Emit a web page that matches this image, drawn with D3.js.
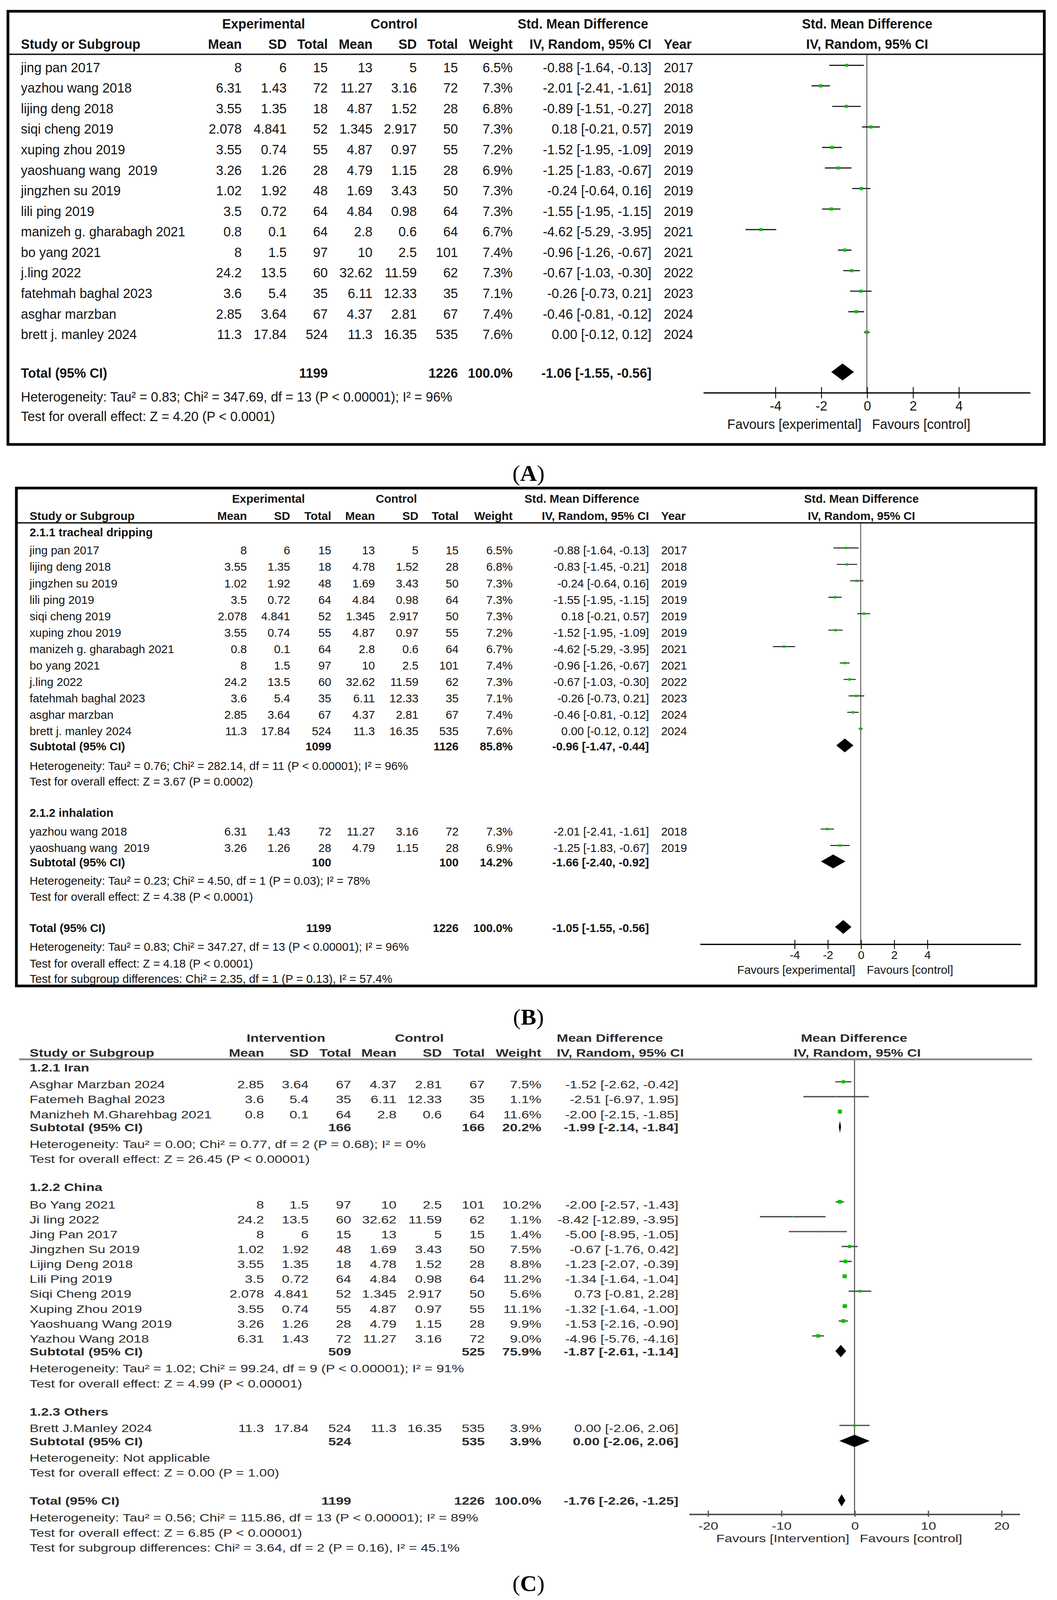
<!DOCTYPE html>
<html>
<head>
<meta charset="utf-8">
<script src="https://cdn.jsdelivr.net/npm/d3@7"></script>
<style>
  html, body { margin: 0; height: 100%; overflow: hidden; background: #fff; }
  #chart { width: 100vw; height: 100vh; }
  svg { display: block; width: 100vw; height: 100vh; }
</style>
</head>
<body>
<div id="chart"></div>
<script>
// ---------- panel A : all studies ----------
const namesA = ["jing pan 2017", "yazhou wang 2018", "lijing deng 2018", "siqi cheng 2019", "xuping zhou 2019",
  "yaoshuang wang  2019", "jingzhen su 2019", "lili ping 2019", "manizeh g. gharabagh 2021", "bo yang 2021",
  "j.ling 2022", "fatehmah baghal 2023", "asghar marzban", "brett j. manley 2024"];
const groupA = [0, 0, 0, 0, 0, 0, 0, 0, 0, 0, 0, 0, 0, 0];
const expMeanA = [8, 6.31, 3.55, 2.078, 3.55, 3.26, 1.02, 3.5, 0.8, 8, 24.2, 3.6, 2.85, 11.3];
const expSdA = [6, 1.43, 1.35, 4.841, 0.74, 1.26, 1.92, 0.72, 0.1, 1.5, 13.5, 5.4, 3.64, 17.84];
const expNA = [15, 72, 18, 52, 55, 28, 48, 64, 64, 97, 60, 35, 67, 524];
const ctlMeanA = [13, 11.27, 4.87, 1.345, 4.87, 4.79, 1.69, 4.84, 2.8, 10, 32.62, 6.11, 4.37, 11.3];
const ctlSdA = [5, 3.16, 1.52, 2.917, 0.97, 1.15, 3.43, 0.98, 0.6, 2.5, 11.59, 12.33, 2.81, 16.35];
const ctlNA = [15, 72, 28, 50, 55, 28, 50, 64, 64, 101, 62, 35, 67, 535];
const weightA = [6.5, 7.3, 6.8, 7.3, 7.2, 6.9, 7.3, 7.3, 6.7, 7.4, 7.3, 7.1, 7.4, 7.6];
const estA = [-0.88, -2.01, -0.89, 0.18, -1.52, -1.25, -0.24, -1.55, -4.62, -0.96, -0.67, -0.26, -0.46, 0.00];
const loA = [-1.64, -2.41, -1.51, -0.21, -1.95, -1.83, -0.64, -1.95, -5.29, -1.26, -1.03, -0.73, -0.81, -0.12];
const hiA = [-0.13, -1.61, -0.27, 0.57, -1.09, -0.67, 0.16, -1.15, -3.95, -0.67, -0.30, 0.21, -0.12, 0.12];
const yearA = [2017, 2018, 2018, 2019, 2019, 2019, 2019, 2019, 2021, 2021, 2022, 2023, 2024, 2024];
const totalA = [1199, 1226, 100.0, -1.06, -1.55, -0.56];
const totalNotesA = ["Heterogeneity: Tau² = 0.83; Chi² = 347.69, df = 13 (P < 0.00001); I² = 96%",
  "Test for overall effect: Z = 4.20 (P < 0.0001)"];
const ticksA = [-4, -2, 0, 2, 4];

// ---------- panel B : by administration route ----------
const namesB = ["jing pan 2017", "lijing deng 2018", "jingzhen su 2019", "lili ping 2019", "siqi cheng 2019",
  "xuping zhou 2019", "manizeh g. gharabagh 2021", "bo yang 2021", "j.ling 2022", "fatehmah baghal 2023",
  "asghar marzban", "brett j. manley 2024", "yazhou wang 2018", "yaoshuang wang  2019"];
const groupB = [0, 0, 0, 0, 0, 0, 0, 0, 0, 0, 0, 0, 1, 1];
const expMeanB = [8, 3.55, 1.02, 3.5, 2.078, 3.55, 0.8, 8, 24.2, 3.6, 2.85, 11.3, 6.31, 3.26];
const expSdB = [6, 1.35, 1.92, 0.72, 4.841, 0.74, 0.1, 1.5, 13.5, 5.4, 3.64, 17.84, 1.43, 1.26];
const expNB = [15, 18, 48, 64, 52, 55, 64, 97, 60, 35, 67, 524, 72, 28];
const ctlMeanB = [13, 4.78, 1.69, 4.84, 1.345, 4.87, 2.8, 10, 32.62, 6.11, 4.37, 11.3, 11.27, 4.79];
const ctlSdB = [5, 1.52, 3.43, 0.98, 2.917, 0.97, 0.6, 2.5, 11.59, 12.33, 2.81, 16.35, 3.16, 1.15];
const ctlNB = [15, 28, 50, 64, 50, 55, 64, 101, 62, 35, 67, 535, 72, 28];
const weightB = [6.5, 6.8, 7.3, 7.3, 7.3, 7.2, 6.7, 7.4, 7.3, 7.1, 7.4, 7.6, 7.3, 6.9];
const estB = [-0.88, -0.83, -0.24, -1.55, 0.18, -1.52, -4.62, -0.96, -0.67, -0.26, -0.46, 0.00, -2.01, -1.25];
const loB = [-1.64, -1.45, -0.64, -1.95, -0.21, -1.95, -5.29, -1.26, -1.03, -0.73, -0.81, -0.12, -2.41, -1.83];
const hiB = [-0.13, -0.21, 0.16, -1.15, 0.57, -1.09, -3.95, -0.67, -0.30, 0.21, -0.12, 0.12, -1.61, -0.67];
const yearB = [2017, 2018, 2019, 2019, 2019, 2019, 2021, 2021, 2022, 2023, 2024, 2024, 2018, 2019];
const groupLabelsB = ["2.1.1 tracheal dripping", "2.1.2 inhalation"];
const subExpNB = [1099, 100];
const subCtlNB = [1126, 100];
const subWeightB = [85.8, 14.2];
const subEstB = [-0.96, -1.66];
const subLoB = [-1.47, -2.40];
const subHiB = [-0.44, -0.92];
const subHetB = ["Heterogeneity: Tau² = 0.76; Chi² = 282.14, df = 11 (P < 0.00001); I² = 96%",
  "Heterogeneity: Tau² = 0.23; Chi² = 4.50, df = 1 (P = 0.03); I² = 78%"];
const subTestB = ["Test for overall effect: Z = 3.67 (P = 0.0002)", "Test for overall effect: Z = 4.38 (P < 0.0001)"];
const totalB = [1199, 1226, 100.0, -1.05, -1.55, -0.56];
const totalNotesB = ["Heterogeneity: Tau² = 0.83; Chi² = 347.27, df = 13 (P < 0.00001); I² = 96%",
  "Test for overall effect: Z = 4.18 (P < 0.0001)",
  "Test for subgroup differences: Chi² = 2.35, df = 1 (P = 0.13), I² = 57.4%"];
const ticksB = [-4, -2, 0, 2, 4];

// ---------- panel C : by country ----------
const namesC = ["Asghar Marzban 2024", "Fatemeh Baghal 2023", "Manizheh M.Gharehbag 2021", "Bo Yang 2021",
  "Ji ling 2022", "Jing Pan 2017", "Jingzhen Su 2019", "Lijing Deng 2018", "Lili Ping 2019", "Siqi Cheng 2019",
  "Xuping Zhou 2019", "Yaoshuang Wang 2019", "Yazhou Wang 2018", "Brett J.Manley 2024"];
const groupC = [0, 0, 0, 1, 1, 1, 1, 1, 1, 1, 1, 1, 1, 2];
const expMeanC = [2.85, 3.6, 0.8, 8, 24.2, 8, 1.02, 3.55, 3.5, 2.078, 3.55, 3.26, 6.31, 11.3];
const expSdC = [3.64, 5.4, 0.1, 1.5, 13.5, 6, 1.92, 1.35, 0.72, 4.841, 0.74, 1.26, 1.43, 17.84];
const expNC = [67, 35, 64, 97, 60, 15, 48, 18, 64, 52, 55, 28, 72, 524];
const ctlMeanC = [4.37, 6.11, 2.8, 10, 32.62, 13, 1.69, 4.78, 4.84, 1.345, 4.87, 4.79, 11.27, 11.3];
const ctlSdC = [2.81, 12.33, 0.6, 2.5, 11.59, 5, 3.43, 1.52, 0.98, 2.917, 0.97, 1.15, 3.16, 16.35];
const ctlNC = [67, 35, 64, 101, 62, 15, 50, 28, 64, 50, 55, 28, 72, 535];
const weightC = [7.5, 1.1, 11.6, 10.2, 1.1, 1.4, 7.5, 8.8, 11.2, 5.6, 11.1, 9.9, 9.0, 3.9];
const estC = [-1.52, -2.51, -2.00, -2.00, -8.42, -5.00, -0.67, -1.23, -1.34, 0.73, -1.32, -1.53, -4.96, 0.00];
const loC = [-2.62, -6.97, -2.15, -2.57, -12.89, -8.95, -1.76, -2.07, -1.64, -0.81, -1.64, -2.16, -5.76, -2.06];
const hiC = [-0.42, 1.95, -1.85, -1.43, -3.95, -1.05, 0.42, -0.39, -1.04, 2.28, -1.00, -0.90, -4.16, 2.06];
const groupLabelsC = ["1.2.1 Iran", "1.2.2 China", "1.2.3 Others"];
const subExpNC = [166, 509, 524];
const subCtlNC = [166, 525, 535];
const subWeightC = [20.2, 75.9, 3.9];
const subEstC = [-1.99, -1.87, 0.00];
const subLoC = [-2.14, -2.61, -2.06];
const subHiC = [-1.84, -1.14, 2.06];
const subHetC = ["Heterogeneity: Tau² = 0.00; Chi² = 0.77, df = 2 (P = 0.68); I² = 0%",
  "Heterogeneity: Tau² = 1.02; Chi² = 99.24, df = 9 (P < 0.00001); I² = 91%",
  "Heterogeneity: Not applicable"];
const subTestC = ["Test for overall effect: Z = 26.45 (P < 0.00001)",
  "Test for overall effect: Z = 4.99 (P < 0.00001)",
  "Test for overall effect: Z = 0.00 (P = 1.00)"];
const totalC = [1199, 1226, 100.0, -1.76, -2.26, -1.25];
const totalNotesC = ["Heterogeneity: Tau² = 0.56; Chi² = 115.86, df = 13 (P < 0.00001); I² = 89%",
  "Test for overall effect: Z = 6.85 (P < 0.00001)",
  "Test for subgroup differences: Chi² = 3.64, df = 2 (P = 0.16), I² = 45.1%"];
const ticksC = [-20, -10, 0, 10, 20];

// ---------- drawing ----------
// whole figure is laid out in a 1000-wide unit box and stretched to the window
const W = 1000, H = 4228 * 1000 / 2706;
const SANS = "'Liberation Sans', Arial, sans-serif";
const SERIF = "'Liberation Serif', 'Times New Roman', serif";

const svg = d3.select("#chart").append("svg")
  .attr("viewBox", `0 0 ${W} ${H}`)
  .attr("preserveAspectRatio", "none");
svg.append("rect").attr("width", W).attr("height", H).attr("fill", "#fff");

const fmtCI = (e, l, h) => `${e.toFixed(2)} [${l.toFixed(2)}, ${h.toFixed(2)}]`;
const fmtW = w => w.toFixed(1) + "%";

function forest(d, L) {
  const g = svg.append("g");
  const x = d3.scaleLinear().domain([d.ticks[0], d.ticks[d.ticks.length - 1]]).range(L.xRange);

  const T = (tx, ty, s, o = {}) => g.append("text")
    .attr("transform", `translate(${tx},${ty}) scale(${L.sx},1)`)
    .attr("text-anchor", o.anchor || "start")
    .attr("dominant-baseline", "central")
    .style("font-family", SANS)
    .style("font-size", L.font + "px")
    .style("font-weight", o.bold ? "bold" : "normal")
    .style("white-space", "pre")
    .attr("fill", L.ink)
    .text(s);

  // header
  T(L.armX[0], L.head1Y, d.arms[0], { anchor: "middle", bold: true });
  T(L.armX[1], L.head1Y, d.arms[1], { anchor: "middle", bold: true });
  T(L.ciHeadX, L.head1Y, d.effect, { anchor: "middle", bold: true });
  T(L.plotHeadX, L.head1Y, d.effect, { anchor: "middle", bold: true });
  T(L.nameX, L.head2Y, "Study or Subgroup", { bold: true });
  ["Mean", "SD", "Total", "Mean", "SD", "Total"].forEach((h, k) => T(L.colX[k], L.head2Y, h, { anchor: "end", bold: true }));
  T(L.weightX, L.head2Y, "Weight", { anchor: "end", bold: true });
  T(L.ciHead2X, L.head2Y, "IV, Random, 95% CI", { anchor: "end", bold: true });
  if (L.yearX) T(L.yearX, L.head2Y, "Year", { bold: true });
  T(L.plotHead2X, L.head2Y, "IV, Random, 95% CI", { anchor: "middle", bold: true });

  // zero line
  g.append("line")
    .attr("x1", x(0)).attr("x2", x(0)).attr("y1", L.ruleY).attr("y2", L.axisY)
    .attr("stroke", L.zeroColor).attr("stroke-width", L.zeroW);

  g.append("line")
    .attr("x1", L.ruleX[0]).attr("x2", L.ruleX[1]).attr("y1", L.ruleY).attr("y2", L.ruleY)
    .attr("stroke", L.ruleColor).attr("stroke-width", L.ruleW);

  // study rows
  const counters = d.groupLabels.map(() => 0);
  const rows = d.names.map((name, i) => {
    const gi = d.group[i];
    const yScale = d3.scaleLinear().domain([0, 1]).range([L.studyStart[gi], L.studyStart[gi] + L.step]);
    return { i, y: yScale(counters[gi]++) };
  });

  d.groupLabels.forEach((lab, gi) => { if (lab) T(L.nameX, L.groupHeadY[gi], lab, { bold: true }); });

  rows.forEach(({ i, y }) => {
    T(L.nameX, y, d.names[i]);
    [d.expMean, d.expSd, d.expN, d.ctlMean, d.ctlSd, d.ctlN].forEach((col, k) =>
      T(L.colX[k], y, String(col[i]), { anchor: "end" }));
    T(L.weightX, y, fmtW(d.weight[i]), { anchor: "end" });
    T(L.ciX, y, fmtCI(d.est[i], d.lo[i], d.hi[i]), { anchor: "end" });
    if (L.yearX) T(L.yearX, y, String(d.year[i]));
  });

  g.append("g").selectAll("line").data(rows).join("line")
    .attr("x1", r => x(d.lo[r.i])).attr("x2", r => x(d.hi[r.i]))
    .attr("y1", r => r.y + L.markDy).attr("y2", r => r.y + L.markDy)
    .attr("stroke", L.ciColor).attr("stroke-width", L.ciW);

  g.append("g").selectAll("rect").data(rows).join("rect")
    .attr("x", r => x(d.est[r.i]) - L.sq * Math.sqrt(d.weight[r.i]) / 2)
    .attr("y", r => r.y + L.markDy - L.sq * Math.sqrt(d.weight[r.i]) / 2)
    .attr("width", r => L.sq * Math.sqrt(d.weight[r.i]))
    .attr("height", r => L.sq * Math.sqrt(d.weight[r.i]))
    .attr("fill", "#00c400");

  const diamond = (e, l, h, y) => g.append("path")
    .attr("d", `M${x(l)},${y}L${x(e)},${y - L.diaH}L${x(h)},${y}L${x(e)},${y + L.diaH}Z`)
    .attr("fill", "#000");

  const summary = (label, y, s) => {
    T(L.nameX, y, label, { bold: true });
    T(L.colX[2], y, String(s[0]), { anchor: "end", bold: true });
    T(L.colX[5], y, String(s[1]), { anchor: "end", bold: true });
    T(L.weightX, y, fmtW(s[2]), { anchor: "end", bold: true });
    T(L.ciX, y, fmtCI(s[3], s[4], s[5]), { anchor: "end", bold: true });
    diamond(s[3], s[4], s[5], y + L.diaDy);
  };

  // subtotals
  (d.subExpN || []).forEach((n, gi) => {
    summary("Subtotal (95% CI)", L.subY[gi],
      [n, d.subCtlN[gi], d.subWeight[gi], d.subEst[gi], d.subLo[gi], d.subHi[gi]]);
    T(L.nameX, L.hetY[gi], d.subHet[gi]);
    T(L.nameX, L.testY[gi], d.subTest[gi]);
  });

  // total
  summary("Total (95% CI)", L.totalY, d.total);
  d.totalNotes.forEach((s, k) => T(L.nameX, L.notesY[k], s));

  // axis
  g.append("line")
    .attr("x1", x(L.axisExt[0])).attr("x2", x(L.axisExt[1]))
    .attr("y1", L.axisY).attr("y2", L.axisY)
    .attr("stroke", L.axisColor).attr("stroke-width", L.axisW);
  const axG = g.append("g")
    .attr("transform", `translate(0,${L.axisY - L.tickUp})`)
    .call(d3.axisBottom(x).tickValues(d.ticks).tickSize(L.tickUp + L.tickDown).tickPadding(0).tickFormat(v => String(v)));
  axG.attr("font-size", null).attr("font-family", null);
  axG.select(".domain").remove();
  axG.selectAll(".tick line").attr("stroke", L.axisColor).attr("stroke-width", L.tickW);
  axG.selectAll(".tick text")
    .attr("y", L.tickLabY - (L.axisY - L.tickUp)).attr("dy", null)
    .attr("dominant-baseline", "central")
    .attr("transform", `scale(${L.sx},1)`)
    .attr("fill", L.ink)
    .style("font-family", SANS).style("font-size", L.font + "px");

  T(L.favX[0], L.favY, d.favours[0], { anchor: "end" });
  T(L.favX[1], L.favY, d.favours[1]);

  if (L.box) {
    g.append("rect")
      .attr("x", L.box[0]).attr("y", L.box[1])
      .attr("width", L.box[2] - L.box[0]).attr("height", L.box[3] - L.box[1])
      .attr("fill", "none").attr("stroke", "#000").attr("stroke-width", L.boxW);
  }

  const lab = svg.append("text")
    .attr("x", 500).attr("y", L.labelY)
    .attr("text-anchor", "middle").attr("dominant-baseline", "central")
    .style("font-family", SERIF).style("font-size", "22px").attr("fill", "#000");
  lab.append("tspan").text("(");
  lab.append("tspan").style("font-weight", "bold").text(L.label);
  lab.append("tspan").text(")");
}

forest({
  names: namesA, group: groupA, groupLabels: [null], expMean: expMeanA, expSd: expSdA, expN: expNA,
  ctlMean: ctlMeanA, ctlSd: ctlSdA, ctlN: ctlNA, weight: weightA, est: estA, lo: loA, hi: hiA, year: yearA,
  total: totalA, totalNotes: totalNotesA, ticks: ticksA,
  arms: ["Experimental", "Control"], effect: "Std. Mean Difference",
  favours: ["Favours [experimental]", "Favours [control]"]
}, {
  font: 13.5, sx: 0.925, ink: "#141414",
  nameX: 19.8, colX: [228.7, 271.2, 310.1, 352.4, 394.3, 433.2], weightX: 485, ciX: 616.3, ciHead2X: 616.3, yearX: 628,
  armX: [249.4, 372.8], ciHeadX: 551.5, plotHeadX: 820.4, plotHead2X: 820.4,
  head1Y: 23.3, head2Y: 43, ruleY: 53, ruleX: [7.5, 988], ruleColor: "#111", ruleW: 1.3,
  groupHeadY: [], studyStart: [65.8], step: 20.05,
  totalY: 364.2, notesY: [387.6, 406.5],
  xRange: [733.3, 906.9], axisExt: [-7.12, 7.13], axisY: 383.7, tickUp: 5.7, tickDown: 5.3, tickW: 0.8,
  tickLabY: 396.3, favY: 414.3, favX: [815, 825],
  markDy: -2, sq: 1.15, diaH: 8.3, diaDy: -1, ciColor: "#1a1a1a", ciW: 1.1,
  zeroColor: "#333", zeroW: 0.7, axisColor: "#000", axisW: 1.2,
  box: [7.5, 11, 988, 434], boxW: 2.6, label: "A", labelY: 462
});

forest({
  names: namesB, group: groupB, groupLabels: groupLabelsB, expMean: expMeanB, expSd: expSdB, expN: expNB,
  ctlMean: ctlMeanB, ctlSd: ctlSdB, ctlN: ctlNB, weight: weightB, est: estB, lo: loB, hi: hiB, year: yearB,
  subExpN: subExpNB, subCtlN: subCtlNB, subWeight: subWeightB, subEst: subEstB, subLo: subLoB, subHi: subHiB,
  subHet: subHetB, subTest: subTestB,
  total: totalB, totalNotes: totalNotesB, ticks: ticksB,
  arms: ["Experimental", "Control"], effect: "Std. Mean Difference",
  favours: ["Favours [experimental]", "Favours [control]"]
}, {
  font: 11.5, sx: 0.955, ink: "#141414",
  nameX: 28, colX: [233.6, 274.5, 313.4, 354.7, 395.9, 433.9], weightX: 485, ciX: 614, ciHead2X: 614, yearX: 625.5,
  armX: [254, 375], ciHeadX: 550.5, plotHeadX: 815, plotHead2X: 815,
  head1Y: 487, head2Y: 503.5, ruleY: 510.6, ruleX: [15.5, 980], ruleColor: "#111", ruleW: 1.3,
  groupHeadY: [519.7, 793.5], studyStart: [537.4, 811.9], step: 16.05,
  subY: [728.9, 842.2], hetY: [747.9, 860], testY: [763.2, 875.7],
  totalY: 906.2, notesY: [924.4, 940.9, 955.7],
  xRange: [751.5, 877.1], axisExt: [-9.67, 9.65], axisY: 922.2, tickUp: 4.4, tickDown: 4.6, tickW: 0.8,
  tickLabY: 932.6, favY: 947, favX: [809.1, 820],
  markDy: -2.3, sq: 0.9, diaH: 6.8, diaDy: -1, ciColor: "#1a1a1a", ciW: 0.9,
  zeroColor: "#333", zeroW: 0.7, axisColor: "#000", axisW: 1.2,
  box: [15.5, 476.6, 980, 962.8], boxW: 2.6, label: "B", labelY: 993
});

forest({
  names: namesC, group: groupC, groupLabels: groupLabelsC, expMean: expMeanC, expSd: expSdC, expN: expNC,
  ctlMean: ctlMeanC, ctlSd: ctlSdC, ctlN: ctlNC, weight: weightC, est: estC, lo: loC, hi: hiC, year: null,
  subExpN: subExpNC, subCtlN: subCtlNC, subWeight: subWeightC, subEst: subEstC, subLo: subLoC, subHi: subHiC,
  subHet: subHetC, subTest: subTestC,
  total: totalC, totalNotes: totalNotesC, ticks: ticksC,
  arms: ["Intervention", "Control"], effect: "Mean Difference",
  favours: ["Favours [Intervention]", "Favours [control]"]
}, {
  font: 10.5, sx: 1.24, ink: "#2b2b2b",
  nameX: 28, colX: [249.8, 292, 332.3, 375.1, 418, 458.6], weightX: 512.1, ciX: 641.8, ciHead2X: 647, yearX: null,
  armX: [270.5, 396.7], ciHeadX: 577, plotHeadX: 808, plotHead2X: 811,
  head1Y: 1013.6, head2Y: 1028.2, ruleY: 1034.5, ruleX: [18, 976.5], ruleColor: "#8a8a8a", ruleW: 1.8,
  groupHeadY: [1042.6, 1159.5, 1378.6], studyStart: [1059.2, 1176.4, 1394.8], step: 14.55,
  subY: [1101.1, 1320.1, 1407.8], hetY: [1117.4, 1336.3, 1423.9], testY: [1131.8, 1351.1, 1438.4],
  totalY: 1465.9, notesY: [1482.1, 1496.9, 1511.4],
  xRange: [669.6, 947.3], axisExt: [-22.5, 22.56], axisY: 1478.9, tickUp: 3.7, tickDown: 2.2, tickW: 1.2,
  tickLabY: 1490, favY: 1502.5, favX: [803.5, 813.4],
  markDy: -2.8, sq: 1.15, diaH: 6, diaDy: -0.7, ciColor: "#505050", ciW: 1.3,
  zeroColor: "#555", zeroW: 1, axisColor: "#555", axisW: 1.5,
  box: null, label: "C", labelY: 1546
});
</script>
</body>
</html>
